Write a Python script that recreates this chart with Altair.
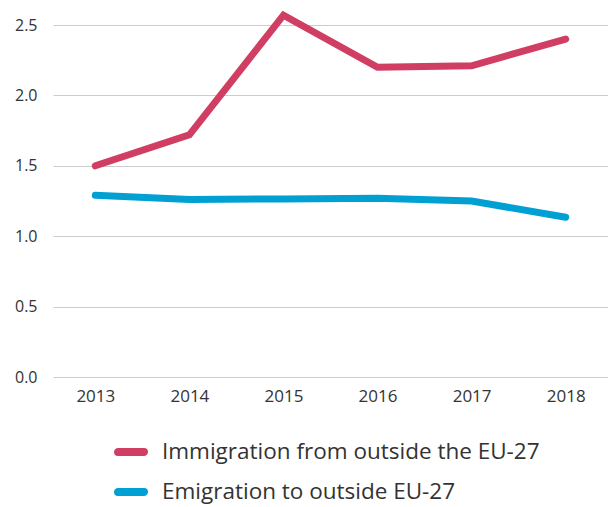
import altair as alt
import pandas as pd

years = ["2013", "2014", "2015", "2016", "2017", "2018"]
immigration = [1.50, 1.72, 2.57, 2.20, 2.21, 2.40]
emigration = [1.29, 1.26, 1.265, 1.27, 1.25, 1.135]
series = ["Immigration from outside the EU-27", "Emigration to outside EU-27"]
colors = ["#d13e63", "#00a0d2"]

rows = []
for y, v in zip(years, immigration):
    rows.append({"year": y, "value": v, "series": series[0]})
for y, v in zip(years, emigration):
    rows.append({"year": y, "value": v, "series": series[1]})
df = pd.DataFrame(rows)

FONT = "Open Sans"
CAPSULE = ("M -0.765 -0.1176 L 0.765 -0.1176 A 0.1176 0.1176 0 0 1 0.765 0.1176 "
           "L -0.765 0.1176 A 0.1176 0.1176 0 0 1 -0.765 -0.1176 Z")

chart = alt.Chart(df).mark_line(strokeWidth=7, strokeCap="round", strokeJoin="miter").encode(
    x=alt.X("year:N", sort=years, title=None,
            scale=alt.Scale(type="point", padding=0.45),
            axis=alt.Axis(domain=False, ticks=False, grid=False, labelAngle=0,
                          labelFontSize=17, labelColor="#333333", labelPadding=11,
                          labelFont=FONT)),
    y=alt.Y("value:Q", title=None,
            scale=alt.Scale(domain=[0, 2.5], nice=False),
            axis=alt.Axis(values=[0, 0.5, 1.0, 1.5, 2.0, 2.5], format=".1f",
                          domain=False, ticks=False, grid=True, gridColor="#cccccc",
                          gridWidth=1.2, labelFontSize=16, labelColor="#333333",
                          labelPadding=16, labelFont=FONT)),
    color=alt.Color("series:N", sort=series,
                    scale=alt.Scale(domain=series, range=colors),
                    legend=alt.Legend(title=None, orient="none", legendX=59, legendY=408,
                                      direction="vertical", symbolType=CAPSULE,
                                      symbolSize=1156, symbolStrokeWidth=4,
                                      labelFontSize=22.5, labelColor="#333333", labelFont=FONT,
                                      rowPadding=9, labelOffset=12, symbolOffset=0,
                                      labelLimit=500)),
).properties(
    width=555, height=352,
    autosize=alt.AutoSizeParams(type="none"),
    padding={"left": 53, "top": 25, "right": 0, "bottom": 130},
).configure(background="white").configure_view(stroke=None)

chart.save("out.html", embed_options={"renderer": "svg", "actions": False})
